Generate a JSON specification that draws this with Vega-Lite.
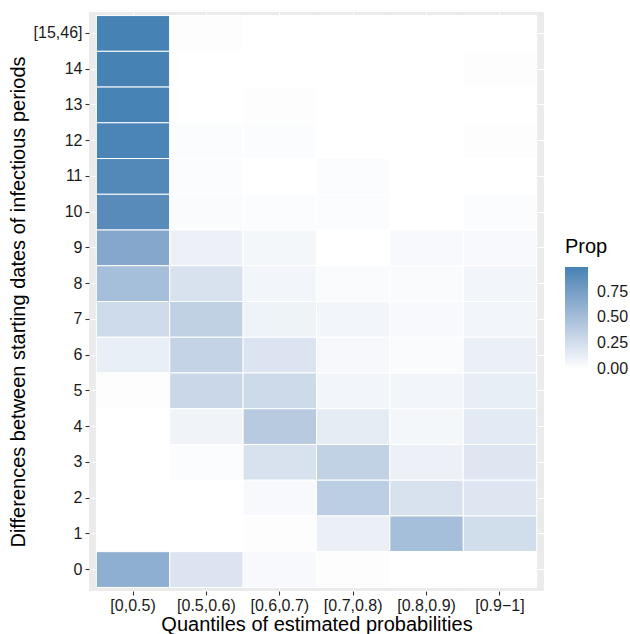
{
  "$schema": "https://vega.github.io/schema/vega-lite/v6.json",
  "width": 455,
  "height": 579,
  "autosize": "none",
  "padding": {"left": 89, "top": 12, "right": 86, "bottom": 43},
  "background": "white",
  "view": {"fill": "#EBEBEB", "stroke": null},
  "data": {"values": [
    {"q": "[0,0.5)", "d": "[15,46]", "prop": 0.99},
    {"q": "[0,0.5)", "d": "14", "prop": 0.99},
    {"q": "[0,0.5)", "d": "13", "prop": 0.98},
    {"q": "[0,0.5)", "d": "12", "prop": 0.97},
    {"q": "[0,0.5)", "d": "11", "prop": 0.93},
    {"q": "[0,0.5)", "d": "10", "prop": 0.91},
    {"q": "[0,0.5)", "d": "9", "prop": 0.68},
    {"q": "[0,0.5)", "d": "8", "prop": 0.5},
    {"q": "[0,0.5)", "d": "7", "prop": 0.27},
    {"q": "[0,0.5)", "d": "6", "prop": 0.12},
    {"q": "[0,0.5)", "d": "5", "prop": 0.01},
    {"q": "[0,0.5)", "d": "4", "prop": 0},
    {"q": "[0,0.5)", "d": "3", "prop": 0},
    {"q": "[0,0.5)", "d": "2", "prop": 0},
    {"q": "[0,0.5)", "d": "1", "prop": 0},
    {"q": "[0,0.5)", "d": "0", "prop": 0.62},
    {"q": "[0.5,0.6)", "d": "[15,46]", "prop": 0.01},
    {"q": "[0.5,0.6)", "d": "14", "prop": 0},
    {"q": "[0.5,0.6)", "d": "13", "prop": 0},
    {"q": "[0.5,0.6)", "d": "12", "prop": 0.02},
    {"q": "[0.5,0.6)", "d": "11", "prop": 0.02},
    {"q": "[0.5,0.6)", "d": "10", "prop": 0.03},
    {"q": "[0.5,0.6)", "d": "9", "prop": 0.1},
    {"q": "[0.5,0.6)", "d": "8", "prop": 0.22},
    {"q": "[0.5,0.6)", "d": "7", "prop": 0.35},
    {"q": "[0.5,0.6)", "d": "6", "prop": 0.33},
    {"q": "[0.5,0.6)", "d": "5", "prop": 0.3},
    {"q": "[0.5,0.6)", "d": "4", "prop": 0.08},
    {"q": "[0.5,0.6)", "d": "3", "prop": 0.02},
    {"q": "[0.5,0.6)", "d": "2", "prop": 0},
    {"q": "[0.5,0.6)", "d": "1", "prop": 0},
    {"q": "[0.5,0.6)", "d": "0", "prop": 0.2},
    {"q": "[0.6,0.7)", "d": "[15,46]", "prop": 0},
    {"q": "[0.6,0.7)", "d": "14", "prop": 0},
    {"q": "[0.6,0.7)", "d": "13", "prop": 0.01},
    {"q": "[0.6,0.7)", "d": "12", "prop": 0.02},
    {"q": "[0.6,0.7)", "d": "11", "prop": 0},
    {"q": "[0.6,0.7)", "d": "10", "prop": 0.02},
    {"q": "[0.6,0.7)", "d": "9", "prop": 0.06},
    {"q": "[0.6,0.7)", "d": "8", "prop": 0.07},
    {"q": "[0.6,0.7)", "d": "7", "prop": 0.09},
    {"q": "[0.6,0.7)", "d": "6", "prop": 0.2},
    {"q": "[0.6,0.7)", "d": "5", "prop": 0.28},
    {"q": "[0.6,0.7)", "d": "4", "prop": 0.4},
    {"q": "[0.6,0.7)", "d": "3", "prop": 0.22},
    {"q": "[0.6,0.7)", "d": "2", "prop": 0.04},
    {"q": "[0.6,0.7)", "d": "1", "prop": 0.01},
    {"q": "[0.6,0.7)", "d": "0", "prop": 0.04},
    {"q": "[0.7,0.8)", "d": "[15,46]", "prop": 0},
    {"q": "[0.7,0.8)", "d": "14", "prop": 0},
    {"q": "[0.7,0.8)", "d": "13", "prop": 0},
    {"q": "[0.7,0.8)", "d": "12", "prop": 0},
    {"q": "[0.7,0.8)", "d": "11", "prop": 0.02},
    {"q": "[0.7,0.8)", "d": "10", "prop": 0.02},
    {"q": "[0.7,0.8)", "d": "9", "prop": 0},
    {"q": "[0.7,0.8)", "d": "8", "prop": 0.03},
    {"q": "[0.7,0.8)", "d": "7", "prop": 0.07},
    {"q": "[0.7,0.8)", "d": "6", "prop": 0.05},
    {"q": "[0.7,0.8)", "d": "5", "prop": 0.07},
    {"q": "[0.7,0.8)", "d": "4", "prop": 0.14},
    {"q": "[0.7,0.8)", "d": "3", "prop": 0.34},
    {"q": "[0.7,0.8)", "d": "2", "prop": 0.37},
    {"q": "[0.7,0.8)", "d": "1", "prop": 0.11},
    {"q": "[0.7,0.8)", "d": "0", "prop": 0.01},
    {"q": "[0.8,0.9)", "d": "[15,46]", "prop": 0},
    {"q": "[0.8,0.9)", "d": "14", "prop": 0},
    {"q": "[0.8,0.9)", "d": "13", "prop": 0},
    {"q": "[0.8,0.9)", "d": "12", "prop": 0},
    {"q": "[0.8,0.9)", "d": "11", "prop": 0},
    {"q": "[0.8,0.9)", "d": "10", "prop": 0},
    {"q": "[0.8,0.9)", "d": "9", "prop": 0.04},
    {"q": "[0.8,0.9)", "d": "8", "prop": 0.03},
    {"q": "[0.8,0.9)", "d": "7", "prop": 0.04},
    {"q": "[0.8,0.9)", "d": "6", "prop": 0.03},
    {"q": "[0.8,0.9)", "d": "5", "prop": 0.07},
    {"q": "[0.8,0.9)", "d": "4", "prop": 0.06},
    {"q": "[0.8,0.9)", "d": "3", "prop": 0.1},
    {"q": "[0.8,0.9)", "d": "2", "prop": 0.22},
    {"q": "[0.8,0.9)", "d": "1", "prop": 0.5},
    {"q": "[0.8,0.9)", "d": "0", "prop": 0},
    {"q": "[0.9−1]", "d": "[15,46]", "prop": 0},
    {"q": "[0.9−1]", "d": "14", "prop": 0.01},
    {"q": "[0.9−1]", "d": "13", "prop": 0},
    {"q": "[0.9−1]", "d": "12", "prop": 0.01},
    {"q": "[0.9−1]", "d": "11", "prop": 0},
    {"q": "[0.9−1]", "d": "10", "prop": 0.02},
    {"q": "[0.9−1]", "d": "9", "prop": 0.04},
    {"q": "[0.9−1]", "d": "8", "prop": 0.07},
    {"q": "[0.9−1]", "d": "7", "prop": 0.07},
    {"q": "[0.9−1]", "d": "6", "prop": 0.11},
    {"q": "[0.9−1]", "d": "5", "prop": 0.13},
    {"q": "[0.9−1]", "d": "4", "prop": 0.16},
    {"q": "[0.9−1]", "d": "3", "prop": 0.18},
    {"q": "[0.9−1]", "d": "2", "prop": 0.18},
    {"q": "[0.9−1]", "d": "1", "prop": 0.26},
    {"q": "[0.9−1]", "d": "0", "prop": 0}
  ]},
  "mark": {"type": "rect", "stroke": "white", "strokeWidth": 1, "opacity": 1, "fillOpacity": 1},
  "encoding": {
    "x": {
      "field": "q", "type": "nominal",
      "sort": ["[0,0.5)", "[0.5,0.6)", "[0.6,0.7)", "[0.7,0.8)", "[0.8,0.9)", "[0.9−1]"],
      "scale": {"paddingInner": 0, "paddingOuter": 0.1},
      "title": "Quantiles of estimated probabilities",
      "axis": {
        "zindex": 0,
        "labelAngle": 0, "bandPosition": 0.5, "grid": true, "gridColor": "white", "gridWidth": 1.1,
        "domain": false, "tickColor": "#333333", "tickSize": 4, "tickWidth": 1.1,
        "labelFont": "Liberation Sans", "labelFontSize": 16, "labelColor": "#1a1a1a", "labelPadding": 2,
        "titleFont": "Liberation Sans", "titleFontSize": 20, "titleFontWeight": "normal", "titleColor": "black", "titlePadding": 1
      }
    },
    "y": {
      "field": "d", "type": "nominal",
      "sort": ["[15,46]", "14", "13", "12", "11", "10", "9", "8", "7", "6", "5", "4", "3", "2", "1", "0"],
      "scale": {"paddingInner": 0, "paddingOuter": 0.1},
      "title": "Differences between starting dates of infectious periods",
      "axis": {
        "zindex": 0,
        "bandPosition": 0.5, "grid": true, "gridColor": "white", "gridWidth": 1.1,
        "domain": false, "tickColor": "#333333", "tickSize": 4, "tickWidth": 1.1,
        "labelFont": "Liberation Sans", "labelFontSize": 16, "labelColor": "#1a1a1a", "labelPadding": 3,
        "titleFont": "Liberation Sans", "titleFontSize": 20, "titleFontWeight": "normal", "titleColor": "black", "titlePadding": 5
      }
    },
    "fill": {
      "field": "prop", "type": "quantitative",
      "scale": {"domain": [-0.002, 0.99], "range": ["#FFFFFF", "#4682B4"], "interpolate": "lab"},
      "legend": {
        "title": "Prop", "orient": "none", "legendX": 476, "legendY": 225,
        "values": [0, 0.25, 0.5, 0.75], "format": ".2f",
        "gradientLength": 102, "gradientThickness": 23, "gradientStrokeWidth": 0,
        "titleFont": "Liberation Sans", "titleFontSize": 20, "titleFontWeight": "normal", "titleColor": "black", "titlePadding": 10,
        "labelFont": "Liberation Sans", "labelFontSize": 16, "labelColor": "#1a1a1a", "labelOffset": 9, "labelOverlap": false
      }
    }
  }
}
